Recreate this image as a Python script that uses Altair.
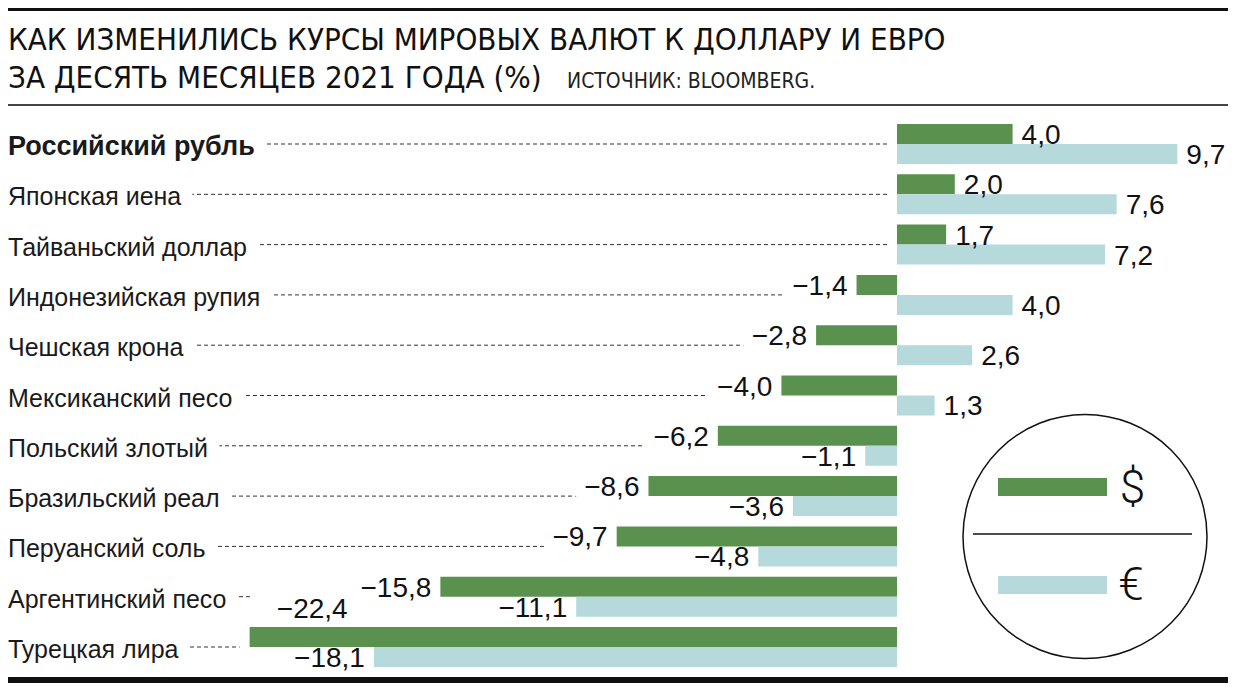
import altair as alt
import pandas as pd

categories = ["Российский рубль", "Японская иена", "Тайваньский доллар", "Индонезийская рупия",
              "Чешская крона", "Мексиканский песо", "Польский злотый", "Бразильский реал",
              "Перуанский соль", "Аргентинский песо", "Турецкая лира"]
usd = [4.0, 2.0, 1.7, -1.4, -2.8, -4.0, -6.2, -8.6, -9.7, -15.8, -22.4]
eur = [9.7, 7.6, 7.2, 4.0, 2.6, 1.3, -1.1, -3.6, -4.8, -11.1, -18.1]
title1 = "КАК ИЗМЕНИЛИСЬ КУРСЫ МИРОВЫХ ВАЛЮТ К ДОЛЛАРУ И ЕВРО"
title2 = "ЗА ДЕСЯТЬ МЕСЯЦЕВ 2021 ГОДА (%)"
source = "ИСТОЧНИК: BLOOMBERG."

GREEN = "#5a914f"
BLUE = "#b6dadb"
W, H = 1220, 675
XMIN, XMAX = -30.761, 11.453

def fmt(v):
    return f"{v:.1f}".replace(".", ",").replace("-", "\u2212")

wide = pd.DataFrame({"cat": categories, "usd": usd, "eur": eur})
wide["bold"] = [c == "Российский рубль" for c in categories]

rows = []
for c, u, e in zip(categories, usd, eur):
    rows.append({"cat": c, "series": "usd", "value": u, "label": fmt(u)})
    rows.append({"cat": c, "series": "eur", "value": e, "label": fmt(e)})
long = pd.DataFrame(rows)
long["special"] = (long["cat"] == "Турецкая лира") & (long["series"] == "usd")

xs = alt.Scale(domain=[XMIN, XMAX], nice=False, zero=False)
ys = alt.Scale(domain=categories, range=[110.85, 664.15], paddingInner=0.2048, paddingOuter=0.1024)
yo = alt.Scale(domain=["usd", "eur"], paddingInner=0, paddingOuter=0)

Y = alt.Y("cat:N", scale=ys, axis=None, sort=categories)
YO = alt.YOffset("series:N", scale=yo, sort=["usd", "eur"])
X = alt.X("value:Q", scale=xs, axis=None)

NUMFONT = "Liberation Sans"
LABFONT = "Liberation Sans"
NARROW = "Liberation Sans Narrow, DejaVu Sans Condensed, Liberation Sans"

base_w = alt.Chart(wide)
base_l = alt.Chart(long)

# leader dotted lines
leader = base_w.transform_calculate(
    end="min(datum.usd, 0)", start=str(XMIN)
).mark_rule(
    strokeDash=[4, 3], strokeWidth=1, color="#333333", x2Offset=-10
).encode(x=alt.X("start:Q", scale=xs, axis=None), x2="end:Q", y=Y)

def cat_text(bold, stroke):
    kw = dict(align="left", baseline="alphabetic", dy=11, font=LABFONT,
              fontSize=27 if bold else 25, fontWeight="bold" if bold else "normal")
    if stroke:
        kw.update(stroke="white", strokeWidth=26, strokeJoin="round", fill="white")
    else:
        kw.update(color="#1a1a1a")
    return base_w.transform_filter(
        "datum.bold" if bold else "!datum.bold"
    ).mark_text(**kw).encode(x=alt.value(0), y=Y, text="cat:N")

def val_text(kind, stroke):
    sw = 26
    if kind == "pos":
        flt = "datum.value >= 0 && !datum.special"
        kw = dict(align="left", dx=9, dy=10)
    elif kind == "neg":
        flt = "datum.value < 0 && !datum.special"
        kw = dict(align="right", dx=-9, dy=10)
    else:
        flt = "datum.special"
        kw = dict(align="right", dx=98, dy=-19)
        sw = 60
    kw.update(baseline="alphabetic", font=NUMFONT, fontSize=28)
    if stroke:
        kw.update(stroke="white", strokeWidth=sw, strokeJoin="round", fill="white")
    else:
        kw.update(color="#111111")
    return base_l.transform_filter(flt).mark_text(**kw).encode(x=X, y=Y, yOffset=YO, text="label:N")

bars = base_l.transform_calculate(zero="0").mark_bar().encode(
    x=X, x2="zero:Q", y=Y, yOffset=YO,
    color=alt.Color("series:N", scale=alt.Scale(domain=["usd", "eur"], range=[GREEN, BLUE]), legend=None),
)

one = alt.Chart(pd.DataFrame({"a": [0]}))

top_bar = one.mark_rect(color="#111111").encode(x=alt.value(0), x2=alt.value(W), y=alt.value(0), y2=alt.value(3))
grey_line = one.mark_rule(color="#444444", strokeWidth=2).encode(x=alt.value(0), x2=alt.value(W), y=alt.value(97))
bottom_bar = one.mark_rect(color="#111111").encode(x=alt.value(0), x2=alt.value(W), y=alt.value(669), y2=alt.value(675))

t1 = one.mark_text(align="left", baseline="alphabetic", font=NARROW, fontSize=31, color="#111111").encode(
    x=alt.value(0), y=alt.value(42), text=alt.value(title1))
t2 = one.mark_text(align="left", baseline="alphabetic", font=NARROW, fontSize=31, color="#111111").encode(
    x=alt.value(0), y=alt.value(80), text=alt.value(title2))
t3 = one.mark_text(align="left", baseline="alphabetic", font=NARROW, fontSize=21, color="#222222").encode(
    x=alt.value(559), y=alt.value(80), text=alt.value(source))

# legend
circle = one.mark_point(shape="circle", size=59536, filled=False, stroke="#111111", strokeWidth=1.5, opacity=1).encode(
    x=alt.value(1077), y=alt.value(528.5))
leg_line = one.mark_rule(color="#111111", strokeWidth=1.5).encode(
    x=alt.value(965), x2=alt.value(1184), y=alt.value(526))
leg_g = one.mark_rect(color=GREEN).encode(x=alt.value(990), x2=alt.value(1099), y=alt.value(470), y2=alt.value(488))
leg_b = one.mark_rect(color=BLUE).encode(x=alt.value(990), x2=alt.value(1099), y=alt.value(568), y2=alt.value(586))
leg_d = one.mark_text(align="center", baseline="middle", font="Roboto", fontWeight=300, fontSize=46, color="#111111").encode(
    x=alt.value(1124.5), y=alt.value(481), text=alt.value("$"))
leg_e = one.mark_text(align="center", baseline="middle", font="Roboto", fontWeight=300, fontSize=46, color="#111111").encode(
    x=alt.value(1123), y=alt.value(577.5), text=alt.value("€"))

chart = alt.layer(
    leader,
    cat_text(True, True), cat_text(False, True),
    val_text("pos", True), val_text("neg", True), val_text("special", True),
    bars,
    cat_text(True, False), cat_text(False, False),
    val_text("pos", False), val_text("neg", False), val_text("special", False),
    top_bar, grey_line, bottom_bar, t1, t2, t3,
    circle, leg_line, leg_g, leg_b, leg_d, leg_e,
).properties(
    width=W, height=H, autosize=alt.AutoSizeParams(type="none"), padding=0,
    background="white",
).configure_view(strokeWidth=0)

chart.save("out.html", embed_options={"renderer": "svg", "actions": False})
